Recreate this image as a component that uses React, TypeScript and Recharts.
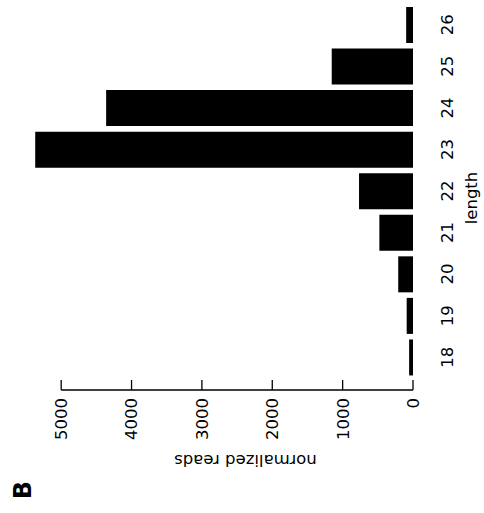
// Read length distribution, drawn as in the rotated R barplot (panel B)

import { BarChart, Bar, XAxis, YAxis, Label } from 'recharts';

const LENGTHS = ['18', '19', '20', '21', '22', '23', '24', '25', '26'];
const READS = [55, 90, 210, 478, 767, 5369, 4361, 1155, 97];
const VALUE_TICKS = [0, 1000, 2000, 3000, 4000, 5000];
const VALUE_MAX = 5500;

const W = 484;
const H = 513;
const MARGIN = { top: 0, right: 0, left: 26, bottom: 0 };
const CAT_AXIS_W = 71;
const VAL_AXIS_H = 123;
const PLOT_W = W - MARGIN.left - MARGIN.right - CAT_AXIS_W;
const PX_PER_UNIT = PLOT_W / VALUE_MAX;

const TEXT_STYLE = { fontFamily: 'DejaVu Sans, sans-serif', fontSize: 16.5 };

const data = LENGTHS.map((len, i) => ({ len, reads: READS[i] }));

function ValueTick({ x, y, payload }: any) {
  const v = payload.value;
  const tx = x + 5.9;
  const ty = y + 8;
  return (
    <g>
      {v === 0 && (
        <line x1={x} y1={y} x2={x - VALUE_TICKS[VALUE_TICKS.length - 1] * PX_PER_UNIT} y2={y} stroke="#000" strokeWidth={1.3} />
      )}
      <line x1={x} y1={y - 10} x2={x} y2={y} stroke="#000" strokeWidth={1.3} />
      <text x={tx} y={ty} transform={`rotate(-90, ${tx}, ${ty})`} textAnchor="end" style={TEXT_STYLE} fill="#000">
        {v}
      </text>
    </g>
  );
}

function LenTick({ x, y, payload }: any) {
  const tx = x + 40;
  return (
    <text x={tx} y={y} transform={`rotate(-90, ${tx}, ${y})`} textAnchor="middle" style={TEXT_STYLE} fill="#000">
      {payload.value}
    </text>
  );
}

function ReadsTitle({ viewBox }: any) {
  const cx = viewBox.x + viewBox.width * 0.567;
  const by = viewBox.y + 65;
  return (
    <g>
      <text x={cx} y={by} transform={`rotate(180, ${cx}, ${by})`} textAnchor="middle" style={TEXT_STYLE} fill="#000">
        normalized reads
      </text>
      <text
        x={30.5}
        y={490}
        transform="rotate(-90, 30.5, 490)"
        textAnchor="middle"
        style={{ fontFamily: 'DejaVu Sans, sans-serif', fontSize: 24, fontWeight: 'bold' }}
        fill="#000"
      >
        B
      </text>
    </g>
  );
}

function LenTitle({ viewBox }: any) {
  const bx = viewBox.x + 64;
  const cy = viewBox.y + 198;
  return (
    <text x={bx} y={cy} transform={`rotate(-90, ${bx}, ${cy})`} textAnchor="middle" style={TEXT_STYLE} fill="#000">
      length
    </text>
  );
}

export default function App() {
  return (
    <div style={{ position: 'absolute', left: 0, top: 0, background: '#fff' }}>
      <BarChart width={W} height={H} data={data} layout="vertical" margin={MARGIN}>
        <XAxis
          type="number"
          domain={[0, VALUE_MAX]}
          reversed
          ticks={VALUE_TICKS}
          interval={0}
          tick={<ValueTick />}
          tickSize={0}
          tickMargin={0}
          axisLine={false}
          tickLine={false}
          height={VAL_AXIS_H}
        >
          <Label content={<ReadsTitle />} />
        </XAxis>
        <YAxis
          type="category"
          dataKey="len"
          orientation="right"
          reversed
          width={CAT_AXIS_W}
          axisLine={false}
          tickLine={false}
          tickSize={0}
          tickMargin={0}
          interval={0}
          tick={<LenTick />}
          padding={{ top: 4, bottom: 12 }}
        >
          <Label content={<LenTitle />} />
        </YAxis>
        <Bar dataKey="reads" fill="#000" barSize={36} isAnimationActive={false} />
      </BarChart>
    </div>
  );
}
